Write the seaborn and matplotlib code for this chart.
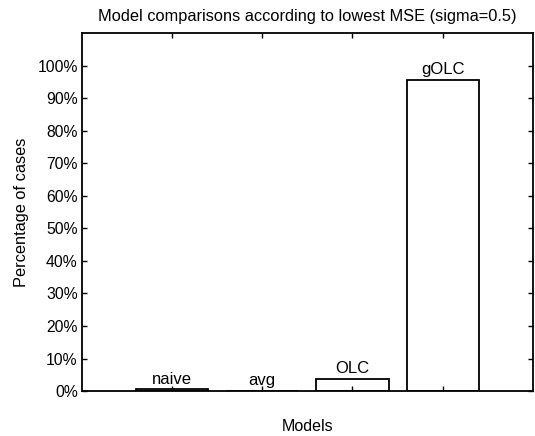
import matplotlib
matplotlib.use("Agg")
import matplotlib.pyplot as plt
import seaborn as sns
import pandas as pd

models = ['naive', 'avg', 'OLC', 'gOLC']
pct_cases = [0.5, 0.0, 3.7, 95.7]
yticks = list(range(0, 101, 10))
ytick_labels = [f'{v}%' for v in yticks]

sns.set_style('ticks')
plt.rcParams['font.family'] = ['Liberation Sans', 'DejaVu Sans']
plt.rcParams['text.color'] = 'black'
plt.rcParams['axes.labelcolor'] = 'black'
plt.rcParams['xtick.color'] = 'black'
plt.rcParams['ytick.color'] = 'black'
plt.rcParams['axes.edgecolor'] = 'black'

df = pd.DataFrame({'Models': models, 'pct': pct_cases})

fig = plt.figure(figsize=(5.35, 4.36), dpi=100)
ax = fig.add_axes([0.153, 0.103, 0.843, 0.821])

sns.barplot(data=df, x='Models', y='pct', ax=ax, fill=False,
            edgecolor='black', linewidth=1.3, width=0.8, err_kws={'linewidth': 0})

ax.bar_label(ax.containers[0], labels=models, padding=2, fontsize=12)

ax.set_xlim(-1, 4)
ax.set_ylim(0, 110)
ax.set_yticks(yticks)
ax.set_yticklabels(ytick_labels)
ax.set_xticklabels([])
ax.tick_params(direction='in', top=True, right=True, length=3.5, width=1,
               labelsize=11.3, pad=3)
for s in ax.spines.values():
    s.set_visible(True)
    s.set_linewidth(1.3)

ax.set_title('Model comparisons according to lowest MSE (sigma=0.5)', fontsize=11.8, pad=9)
ax.set_xlabel('Models', fontsize=11.5, labelpad=17)
ax.set_ylabel('Percentage of cases', fontsize=11.8, labelpad=6)

fig.savefig('out.png', dpi=100)
